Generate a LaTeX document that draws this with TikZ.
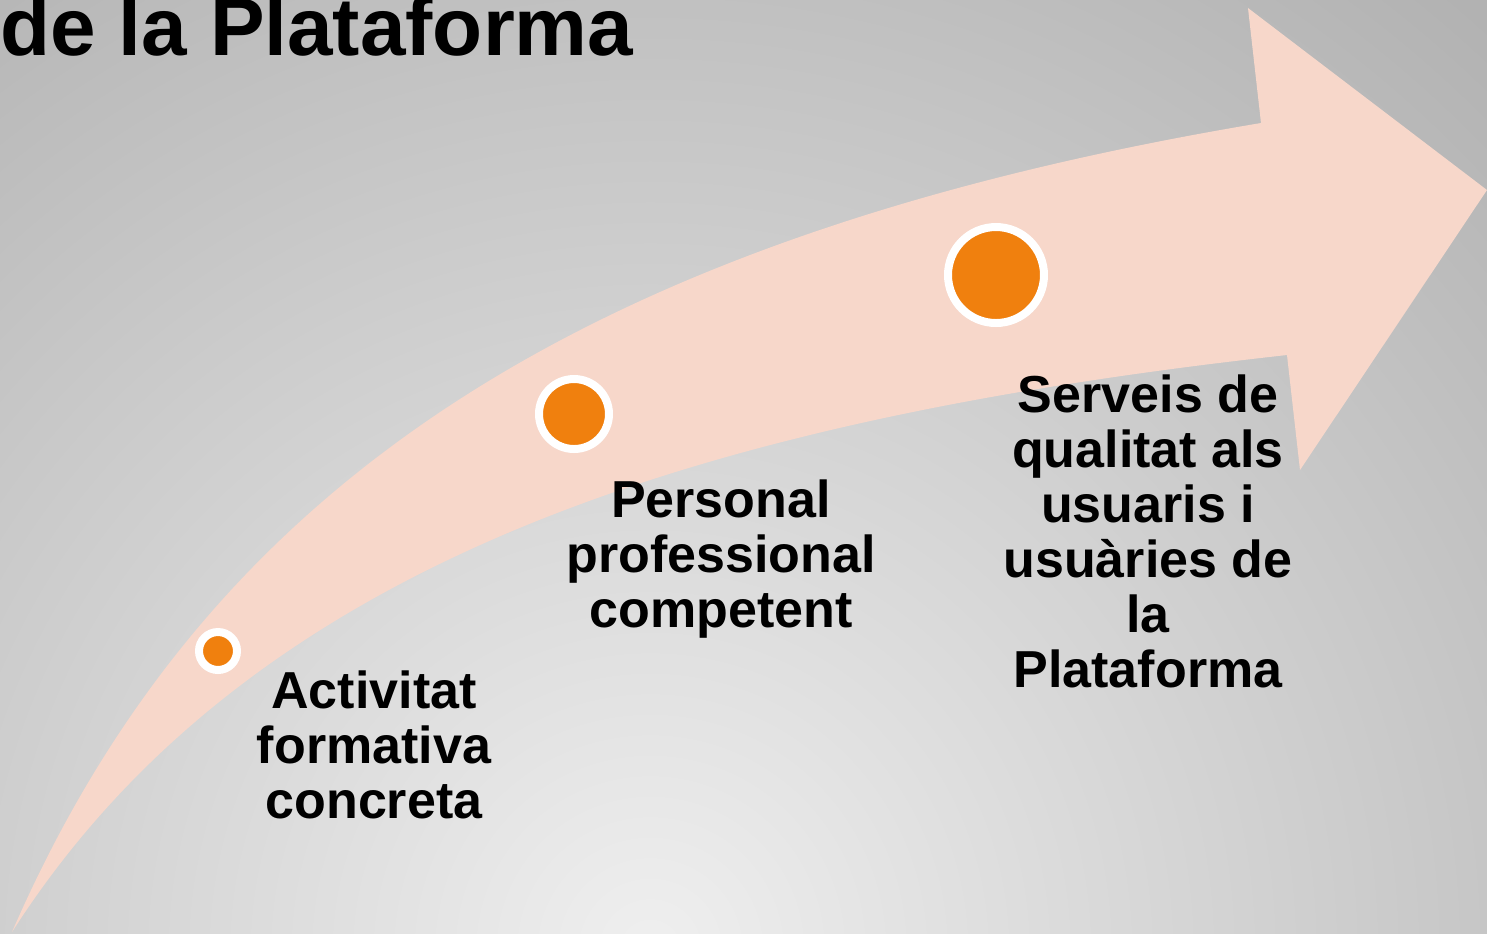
\documentclass[tikz,border=0pt]{standalone}
\usepackage{fontspec}
\setmainfont{Liberation Sans}
\usetikzlibrary{positioning}
\definecolor{bglight}{HTML}{EFEFEF}
\definecolor{bgdark}{HTML}{B2B2B2}
\definecolor{arrowpink}{HTML}{F7D7CA}
\definecolor{dotorange}{HTML}{F0800E}

\begin{document}
\begin{tikzpicture}[
        x=0.1mm, y=-0.1mm,
        dot/.style={circle, fill=dotorange, draw=white, line width=0.8mm, inner sep=0pt},
        stage/.style={font=\bfseries\fontsize{14.8}{15.6}\selectfont, align=center, inner sep=0pt, anchor=base},
        heading/.style={font=\bfseries\fontsize{23.3}{27}\selectfont, inner sep=0pt, anchor=base west},
    ]
    \useasboundingbox (0,0) rectangle (1487,933);
    % background
    \begin{scope}
        \clip (0,0) rectangle (1487,933);
        \fill[bgdark] (0,0) rectangle (1487,933);
        \shade[inner color=bglight, outer color=bgdark] (650,950) circle[radius=12.5cm];
    \end{scope}
    % curved arrow
    \fill[arrowpink] (12,932) .. controls (200,500) and (560,240) .. (1261,123)
        -- (1248,8) -- (1487,190) -- (1300,470) -- (1287,355)
        .. controls (700,420) and (250,560) .. cycle;
    % dots
    \node[dot, minimum size=3.8mm] (d1) at (218,651) {};
    \node[dot, minimum size=7mm] (d2) at (574,414) {};
    \node[dot, minimum size=9.6mm] (d3) at (996,275) {};
    % texts (base = last line)
    \node[heading] (title) at (0,55) {de la Plataforma};
    \node[stage] (t1) at (374,818) {Activitat\\formativa\\concreta};
    \node[stage] (t2) at (721,627) {Personal\\professional\\competent};
    \node[stage] (t3) at (1148,687) {Serveis de\\qualitat als\\usuaris i\\usuàries de\\la\\Plataforma};
\end{tikzpicture}
\end{document}
